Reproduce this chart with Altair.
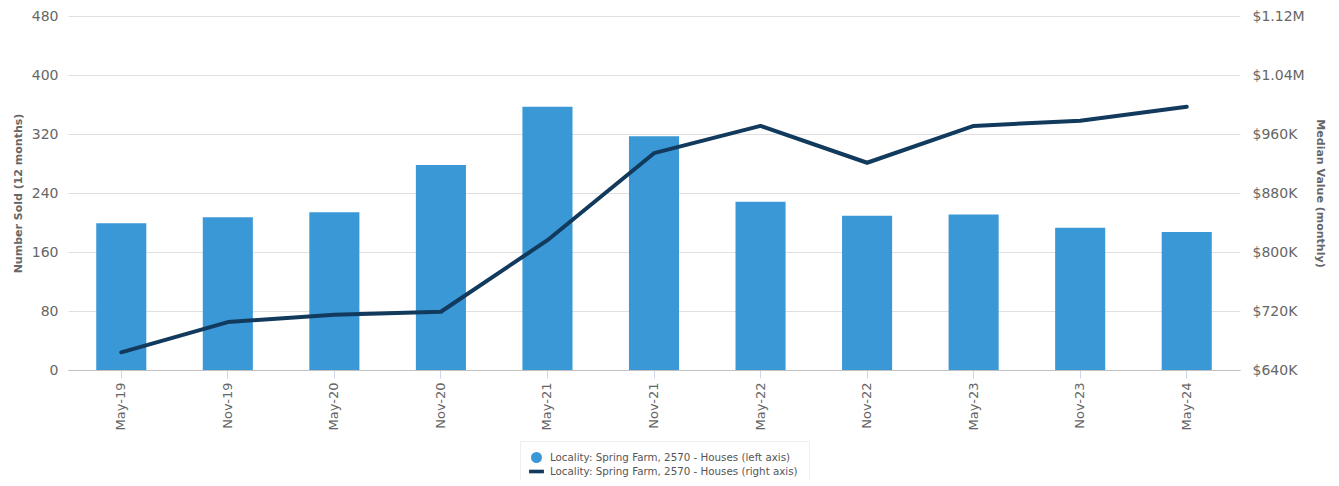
import altair as alt
import pandas as pd

months = ["May-19", "Nov-19", "May-20", "Nov-20", "May-21", "Nov-21",
          "May-22", "Nov-22", "May-23", "Nov-23", "May-24"]
number_sold = [199, 207, 214, 278, 357, 317, 228, 209, 211, 193, 187]
median_value = [664000, 705000, 715000, 719000, 816000, 934000,
                971000, 921000, 971000, 978000, 997000]
series_names = ["Locality: Spring Farm, 2570 - Houses (left axis)",
                "Locality: Spring Farm, 2570 - Houses (right axis)"]
left_ticks = [0, 80, 160, 240, 320, 400, 480]
right_ticks = [640000, 720000, 800000, 880000, 960000, 1040000, 1120000]

BAR = "#3a98d6"
LINE = "#113a5d"
FONT = "DejaVu Sans"

df = pd.DataFrame({"month": months, "sold": number_sold, "value": median_value})
leg_df = pd.DataFrame({"series": series_names})

x_axis = alt.Axis(labelAngle=-90, labelFontSize=13, labelColor="#666666",
                  labelFont=FONT, tickColor="#ccd6eb", tickSize=8,
                  domainColor="#c0c0c0", labelPadding=4, grid=False)

bars = alt.Chart(df).mark_bar(color=BAR).encode(
    x=alt.X("month:N", sort=months, title=None,
            scale=alt.Scale(paddingInner=0.53, paddingOuter=0.265), axis=x_axis),
    y=alt.Y("sold:Q", title="Number Sold (12 months)",
            scale=alt.Scale(domain=[0, 480], nice=False),
            axis=alt.Axis(values=left_ticks, labelFontSize=14, labelColor="#666666",
                          labelFont=FONT, tickSize=0, domain=False, labelPadding=10,
                          gridColor="#e0e0e0", titleFontSize=11, titleColor="#666666",
                          titleFont=FONT, titleFontWeight="bold", titlePadding=8))
)

line = alt.Chart(df).mark_line(color=LINE, strokeWidth=4, strokeCap="round",
                               strokeJoin="round").encode(
    x=alt.X("month:N", sort=months, title=None, axis=x_axis),
    y=alt.Y("value:Q", title="Median Value (monthly)",
            scale=alt.Scale(domain=[640000, 1120000], nice=False),
            axis=alt.Axis(orient="right", values=right_ticks, labelFontSize=14,
                          labelColor="#666666", labelFont=FONT, tickSize=0,
                          domain=False, grid=False, labelPadding=12,
                          labelExpr="datum.value >= 1000000 ? '$' + format(datum.value/1000000, '.2f') + 'M' : '$' + format(datum.value/1000, 'd') + 'K'",
                          titleFontSize=11, titleColor="#666666", titleFont=FONT,
                          titleFontWeight="bold", titlePadding=10))
)

legend_props = dict(orient="none", legendX=452, legendY=425, title=None,
                    labelFontSize=10.3, labelColor="#555555", labelFont=FONT,
                    labelLimit=0, labelOffset=8, symbolOpacity=1, symbolSize=121,
                    padding=11, strokeColor="#eeeeee", fillColor="white",
                    rowPadding=3, symbolStrokeWidth=0)

legend_layer = alt.Chart(leg_df).mark_point(filled=True, opacity=0).encode(
    x=alt.value(0), y=alt.value(0),
    color=alt.Color("series:N", scale=alt.Scale(domain=series_names, range=[BAR, LINE]),
                    legend=alt.Legend(**legend_props)),
    shape=alt.Shape("series:N", scale=alt.Scale(domain=series_names,
                    range=["circle", "M-1.35,-0.33L1.35,-0.33L1.35,0.33L-1.35,0.33Z"]),
                    legend=alt.Legend(**legend_props)),
)

chart = alt.layer(bars, line, legend_layer).resolve_scale(y="independent").properties(
    width=1172, height=354,
    background="white",
    autosize=alt.AutoSizeParams(type="none"),
    padding={"left": 60, "top": 8, "right": 90, "bottom": 110},
).configure_view(stroke=None, strokeWidth=0)

chart.save("out.html", embed_options={"renderer": "svg", "actions": False})
